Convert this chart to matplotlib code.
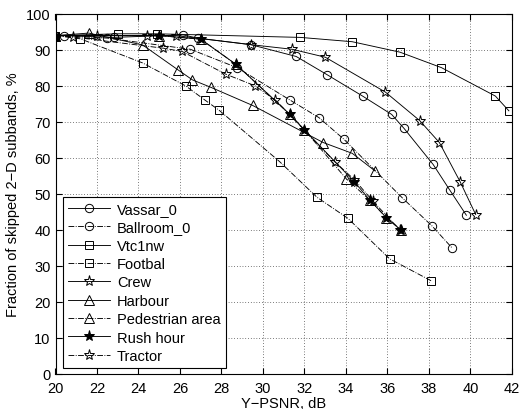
import matplotlib
matplotlib.use("Agg")
import matplotlib.pyplot as plt

plt.rcParams['font.family'] = ['Liberation Sans', 'DejaVu Sans']

# series data
vassar_x = [20, 20.4, 22.8, 26.15, 26.85, 29.4, 31.6, 33.1, 34.8, 36.2, 36.8, 38.2, 39.0, 39.8]
vassar_y = [94, 94, 93.5, 94.2, 93.3, 91.5, 88.2, 83.1, 77.2, 72.1, 68.2, 58.2, 51.1, 44.1]

ballroom_x = [20, 22.5, 26.5, 28.75, 31.3, 32.7, 33.9, 36.7, 38.15, 39.1]
ballroom_y = [94, 93.3, 90.2, 85.1, 76.1, 71.2, 65.2, 49.0, 41.1, 35.1]

vtc_x = [20, 23.0, 24.9, 31.8, 34.3, 36.6, 38.6, 41.2, 41.85]
vtc_y = [94, 94.5, 94.5, 93.5, 92.3, 89.4, 85.1, 77.2, 73.1]

foot_x = [20, 21.2, 24.2, 26.28, 27.2, 27.9, 30.8, 32.6, 34.1, 36.1, 38.1]
foot_y = [94, 93.1, 86.4, 80.0, 76.1, 73.2, 59.0, 49.1, 43.2, 32.0, 25.9]

crew_x = [20, 22.0, 24.4, 25.8, 29.4, 31.4, 33.0, 35.9, 37.55, 38.5, 39.5, 40.25]
crew_y = [94, 94, 94, 94, 91.5, 90.2, 88.0, 78.3, 70.4, 64.3, 53.4, 44.3]

harbour_x = [20, 21.6, 24.2, 25.9, 26.6, 27.5, 29.5, 32.9, 34.3, 35.4]
harbour_y = [94, 94.7, 91.4, 84.5, 81.7, 79.6, 74.6, 64.3, 61.3, 56.4]

ped_x = [20, 25.0, 27.0, 28.7, 31.3, 32.0, 34.0, 35.15, 35.95, 36.63]
ped_y = [94, 94, 93.0, 86.0, 72.1, 67.8, 54.3, 48.3, 43.4, 40.1]

rush_x = [20, 25.0, 27.0, 28.7, 31.3, 32.0, 34.4, 35.15, 35.95, 36.63]
rush_y = [94, 94, 93.0, 86.0, 72.1, 67.8, 53.4, 48.3, 43.4, 40.1]

tractor_x = [20, 20.85, 25.2, 26.1, 28.2, 29.6, 30.6, 33.45, 34.4, 35.3, 36.6]
tractor_y = [94, 93.6, 90.5, 89.6, 83.3, 80.1, 76.1, 59.0, 54.0, 48.0, 40.0]

labels = ['Vassar_0', 'Ballroom_0', 'Vtc1nw', 'Footbal', 'Crew', 'Harbour',
          'Pedestrian area', 'Rush hour', 'Tractor']

fig = plt.figure(figsize=(5.2, 4.1), dpi=100)
ax = fig.add_axes([55.5 / 520, 35 / 410, 456.5 / 520, 360 / 410])

lw = 0.65
ax.plot(vassar_x, vassar_y, '-', color='black', lw=lw, marker='o', ms=6, mfc='none', mec='black', mew=0.7, label=labels[0])
ax.plot(ballroom_x, ballroom_y, '-.', color='black', lw=lw, marker='o', ms=6, mfc='none', mec='black', mew=0.7, label=labels[1])
ax.plot(vtc_x, vtc_y, '-', color='black', lw=lw, marker='s', ms=6, mfc='none', mec='black', mew=0.7, label=labels[2])
ax.plot(foot_x, foot_y, '-.', color='black', lw=lw, marker='s', ms=6, mfc='none', mec='black', mew=0.7, label=labels[3])
ax.plot(crew_x, crew_y, '-', color='black', lw=lw, marker='*', ms=8, mfc='none', mec='black', mew=0.7, label=labels[4])
ax.plot(harbour_x, harbour_y, '-', color='black', lw=lw, marker='^', ms=7, mfc='none', mec='black', mew=0.7, label=labels[5])
ax.plot(ped_x, ped_y, '-.', color='black', lw=lw, marker='^', ms=7, mfc='none', mec='black', mew=0.7, label=labels[6])
ax.plot(rush_x, rush_y, '-', color='black', lw=lw, marker='*', ms=8, mfc='black', mec='black', mew=0.7, label=labels[7])
ax.plot(tractor_x, tractor_y, '-.', color='black', lw=lw, marker='*', ms=8, mfc='none', mec='black', mew=0.7, label=labels[8])

ax.set_xlim(20, 42)
ax.set_ylim(0, 100)
ax.set_xticks(range(20, 43, 2))
ax.set_yticks(range(0, 101, 10))
ax.grid(True, color='black', linestyle=(0, (1, 3)), linewidth=0.5)
ax.tick_params(direction='in', top=True, right=True, labelsize=10.5, length=4)
ax.tick_params(axis='x', pad=5)
for s in ax.spines.values():
    s.set_linewidth(0.8)

ax.set_xlabel('Y\u2212PSNR, dB', fontsize=10.5, labelpad=1)
ax.set_ylabel('Fraction of skipped 2\u2212D subbands, %', fontsize=10.5)

leg = ax.legend(loc='lower left', bbox_to_anchor=(7.5 / 456.5, 6 / 360), borderaxespad=0,
                fontsize=10.5, fancybox=False, edgecolor='black', framealpha=1,
                handlelength=2.9, labelspacing=0.3, borderpad=0.35, handletextpad=0.45)
leg.get_frame().set_linewidth(0.8)

fig.savefig('out.png', dpi=100)
